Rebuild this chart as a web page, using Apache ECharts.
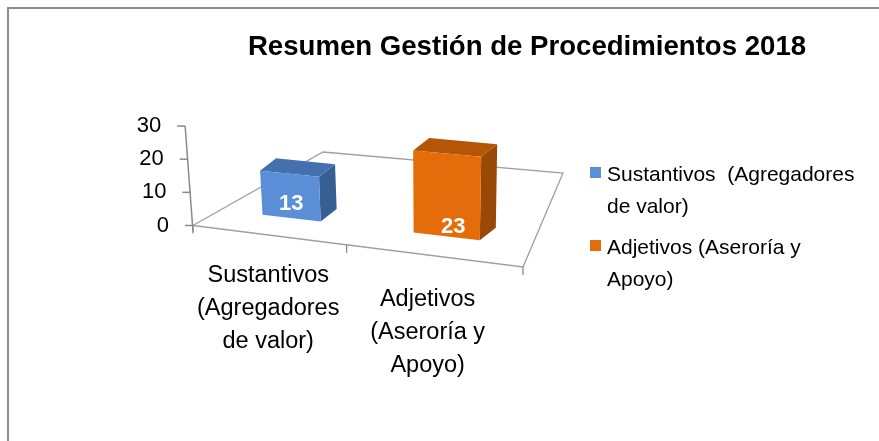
<!DOCTYPE html>
<html><head><meta charset="utf-8">
<script src="https://cdn.jsdelivr.net/npm/echarts@6/dist/echarts.min.js"></script>
<style>html,body{margin:0;padding:0;background:#fff}#c{width:879px;height:441px}</style>
</head><body><div id="c"></div>
<script>
// ---- data ----
const chartTitle = 'Resumen Gesti\u00f3n de Procedimientos 2018';
const categories = ['Sustantivos\n(Agregadores\nde valor)', 'Adjetivos\n(Aseror\u00eda y\nApoyo)'];
const seriesNames = ['Sustantivos  (Agregadores de valor)', 'Adjetivos (Aseror\u00eda y Apoyo)'];
const legendLines = [['Sustantivos  (Agregadores', 'de valor)'], ['Adjetivos (Aseror\u00eda y', 'Apoyo)']];
const values = [13, 23];
const yTicks = [0, 10, 20, 30];

// ---- style / projection ----
const FONT = '"Liberation Sans", Arial, sans-serif';
const faceColors = [
  {front: '#5A8FD7', top: '#4471AD', side: '#375F94'},
  {front: '#E46C0A', top: '#B55607', side: '#9A4806'}
];
const F0 = [193, 225.5], F1 = [523, 267], B1 = [563, 173], B0 = [323, 152];
const HM = (function () {
  const x0 = F0[0], y0 = F0[1], x1 = F1[0], y1 = F1[1], x2 = B1[0], y2 = B1[1], x3 = B0[0], y3 = B0[1];
  const dx1 = x1 - x2, dx2 = x3 - x2, dx3 = x0 - x1 + x2 - x3;
  const dy1 = y1 - y2, dy2 = y3 - y2, dy3 = y0 - y1 + y2 - y3;
  const den = dx1 * dy2 - dx2 * dy1;
  const g = (dx3 * dy2 - dx2 * dy3) / den;
  const h = (dx1 * dy3 - dx3 * dy1) / den;
  return {a: x1 - x0 + g * x1, b: x3 - x0 + h * x3, c: x0, d: y1 - y0 + g * y1, e: y3 - y0 + h * y3, f: y0, g: g, h: h};
})();
const VX = 430, VD = 2990;
function proj(u, v, hp) {
  const w = 1 + HM.g * u + HM.h * v;
  let x = (HM.a * u + HM.b * v + HM.c) / w;
  let y = (HM.d * u + HM.e * v + HM.f) / w;
  const dy = hp * (0.985 + 0.11 * u);
  x += (x - VX) * dy / VD;
  y -= dy;
  return [x, y];
}
const V0 = 0.163;
const DEPTH = [16, -12.5];
function back(p) { return [p[0] + DEPTH[0], p[1] + DEPTH[1]]; }

function axisRender(params, api) {
  const cs = params.coordSys;
  const children = [];
  const stroke = '#A0A0A0';
  children.push({type: 'polyline', shape: {points: [proj(0,0,0), proj(1,0,0), proj(1,1,0), proj(0,1,0), proj(0,0,0)]},
    style: {stroke: stroke, fill: null, lineWidth: 1.3}});
  const base = api.coord([0, yTicks[0]]);
  const top = api.coord([0, yTicks[yTicks.length - 1]]);
  const a0 = proj(0, 0, 0), a1 = proj(0, 0, base[1] - top[1]);
  children.push({type: 'line', shape: {x1: a0[0], y1: a0[1] + 6, x2: a1[0], y2: a1[1]},
    style: {stroke: '#8A8A8A', lineWidth: 1.5}});
  yTicks.forEach(function (t) {
    const p = proj(0, 0, base[1] - api.coord([0, t])[1]);
    children.push({type: 'line', shape: {x1: p[0] - 8, y1: p[1], x2: p[0], y2: p[1]}, style: {stroke: '#8A8A8A', lineWidth: 1.5}});
    children.push({type: 'text', style: {text: String(t), x: p[0] - 24, y: p[1], align: 'right', verticalAlign: 'middle',
      font: '22px ' + FONT, fill: '#000'}});
  });
  const n = categories.length;
  for (let i = 0; i <= n; i++) {
    const p = proj(i / n, 0, 0);
    children.push({type: 'line', shape: {x1: p[0], y1: p[1], x2: p[0], y2: p[1] + 8}, style: {stroke: '#8A8A8A', lineWidth: 1.3}});
  }
  categories.forEach(function (c, i) {
    const px = api.coord([i, 0]);
    const u = (px[0] - cs.x) / cs.width;
    const p = proj(u, 0, 0);
    children.push({type: 'text', style: {text: c, x: p[0] + 3.5 - 10 * u, y: p[1] + 22.5 + 7 * u, align: 'center', verticalAlign: 'top',
      font: '23.5px ' + FONT, lineHeight: 33, fill: '#000'}});
  });
  return {type: 'group', children: children};
}

function makeBarRender(si) {
  return function (params, api) {
    const cs = params.coordSys;
    const ci = api.value(0), val = api.value(1);
    const b = api.coord([ci, 0]), t = api.coord([ci, val]);
    const uc = (b[0] - cs.x) / cs.width;
    const hw = api.size([1, 0])[0] / cs.width * 0.2;
    const H = b[1] - t[1];
    const u0 = uc - hw, u1 = uc + hw;
    const col = faceColors[si];
    const fl0 = proj(u0, V0, 0), fr0 = proj(u1, V0, 0), frH = proj(u1, V0, H), flH = proj(u0, V0, H);
    const front = [fl0, fr0, frH, flH];
    const side = [fr0, back(fr0), back(frH), frH];
    const topF = [flH, frH, back(frH), back(flH)];
    const lp = proj(uc, V0, 0);
    return {type: 'group', children: [
      {type: 'polygon', shape: {points: side}, style: {fill: col.side}},
      {type: 'polygon', shape: {points: topF}, style: {fill: col.top}},
      {type: 'polygon', shape: {points: front}, style: {fill: col.front}},
      {type: 'text', z2: 10, style: {text: String(val), x: lp[0] - 3.5 + 14 * uc, y: lp[1] - 16.5 + 10 * uc, align: 'center', verticalAlign: 'middle',
        font: 'bold 22px ' + FONT, fill: '#fff'}}
    ]};
  };
}

const series = [{
  type: 'custom', name: 'axes', coordinateSystem: 'cartesian2d', z: 1,
  data: [[0, 0]], renderItem: axisRender, silent: true
}];
values.forEach(function (v, i) {
  series.push({type: 'custom', name: seriesNames[i], coordinateSystem: 'cartesian2d', z: 2,
    data: [[i, v]], renderItem: makeBarRender(i), silent: true});
});

const graphics = [
  {type: 'rect', z: 0, shape: {x: 8, y: 8, width: 900, height: 500}, style: {fill: null, stroke: '#8C8C8C', lineWidth: 2}},
  {type: 'text', style: {text: chartTitle, x: 527, y: 47, align: 'center', verticalAlign: 'middle', font: 'bold 27.6px ' + FONT, fill: '#000'}}
];
const legendTops = [167, 240];
legendLines.forEach(function (lines, i) {
  graphics.push({type: 'rect', shape: {x: 590, y: legendTops[i], width: 11, height: 11}, style: {fill: faceColors[i].front}});
  graphics.push({type: 'text', style: {text: lines.join('\n'), x: 607, y: legendTops[i] - 8, align: 'left', verticalAlign: 'top',
    font: '21px ' + FONT, lineHeight: 32, fill: '#000'}});
});

const chart = echarts.init(document.getElementById('c'), null, {renderer: 'canvas'});
chart.setOption({
  animation: false,
  backgroundColor: '#fff',
  grid: {left: 100, top: 100, width: 100, height: 101, show: false},
  xAxis: {type: 'category', data: categories, show: false},
  yAxis: {type: 'value', min: 0, max: 30, interval: 10, show: false},
  graphic: graphics,
  series: series
});
</script></body></html>
